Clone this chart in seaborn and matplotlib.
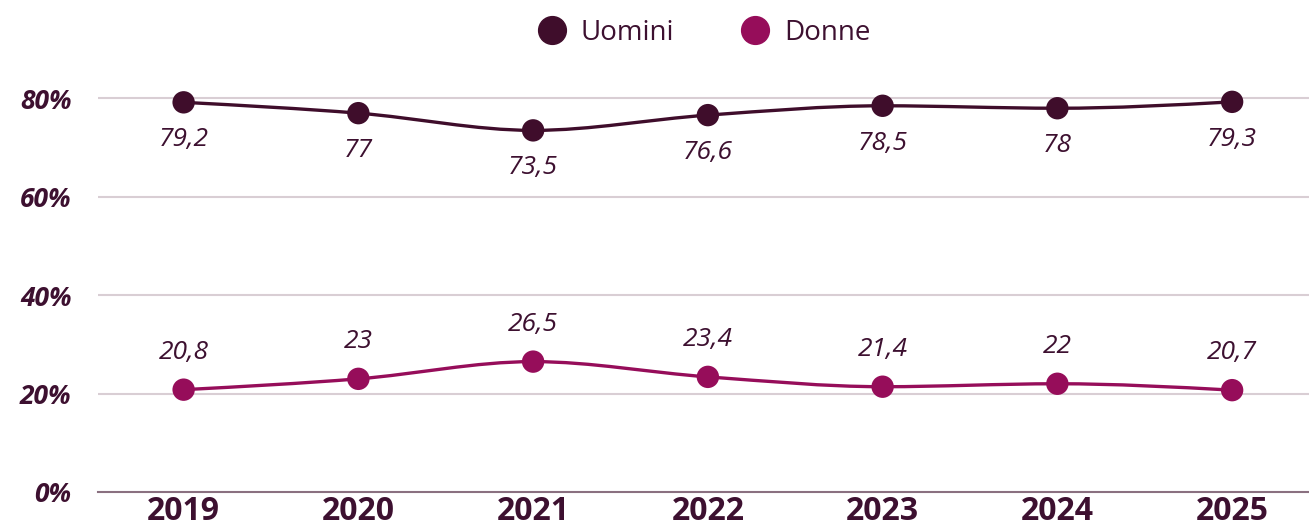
import numpy as np
import pandas as pd
import matplotlib
matplotlib.use("Agg")
import matplotlib.pyplot as plt
from matplotlib.path import Path
from matplotlib.patches import PathPatch
from matplotlib.lines import Line2D
import seaborn as sns

years = ["2019", "2020", "2021", "2022", "2023", "2024", "2025"]
uomini = [79.2, 77.0, 73.5, 76.6, 78.5, 78.0, 79.3]
donne = [20.8, 23.0, 26.5, 23.4, 21.4, 22.0, 20.7]
series_names = ["Uomini", "Donne"]
y_ticks = [0, 20, 40, 60, 80]

C_U = "#3f0d2b"
C_D = "#960d5a"
TXT = "#3d1030"
FONT = "Open Sans"

sns.set_theme(style="white")
plt.rcParams["font.family"] = [FONT, "DejaVu Sans"]

df = pd.DataFrame({
    "x": list(range(len(years))) * 2,
    "val": uomini + donne,
    "serie": [series_names[0]] * len(years) + [series_names[1]] * len(years),
})

fig = plt.figure(figsize=(13.09, 5.31), dpi=100)
ax = fig.add_axes([98 / 1309, 1 - 492 / 531, 1 - 98 / 1309, 492 / 531])
ax.set_xlim(-0.49, 6.44)
ax.set_ylim(0, 100)


def monotone_path(xs, ys):
    xs = np.asarray(xs, float)
    ys = np.asarray(ys, float)
    h = np.diff(xs)
    s = np.diff(ys) / h
    n = len(xs)
    t = np.zeros(n)
    for i in range(1, n - 1):
        s0, s1 = s[i - 1], s[i]
        p = (s0 * h[i] + s1 * h[i - 1]) / (h[i - 1] + h[i])
        t[i] = (np.sign(s0) + np.sign(s1)) * min(abs(s0), abs(s1), 0.5 * abs(p))
    t[0] = (3 * s[0] - t[1]) / 2
    t[-1] = (3 * s[-1] - t[-2]) / 2
    verts = [(xs[0], ys[0])]
    codes = [Path.MOVETO]
    for i in range(n - 1):
        dx = h[i] / 3
        verts += [(xs[i] + dx, ys[i] + dx * t[i]),
                  (xs[i + 1] - dx, ys[i + 1] - dx * t[i + 1]),
                  (xs[i + 1], ys[i + 1])]
        codes += [Path.CURVE4] * 3
    return Path(verts, codes)


xs = list(range(len(years)))
for vals, col in [(uomini, C_U), (donne, C_D)]:
    ax.add_patch(PathPatch(monotone_path(xs, vals), facecolor="none",
                           edgecolor=col, lw=2.4, zorder=3))

sns.scatterplot(data=df, x="x", y="val", hue="serie",
                palette={series_names[0]: C_U, series_names[1]: C_D},
                s=260, linewidth=0, legend=False, ax=ax, zorder=4)

for x, v in zip(xs, uomini):
    ax.annotate(f"{v:g}".replace(".", ","), (x, v), xytext=(0, -27),
                textcoords="offset points", ha="center", va="center",
                fontsize=19, fontstyle="italic", color=TXT)
for x, v in zip(xs, donne):
    ax.annotate(f"{v:g}".replace(".", ","), (x, v), xytext=(0, 27),
                textcoords="offset points", ha="center", va="center",
                fontsize=19, fontstyle="italic", color=TXT)

ax.set_yticks(y_ticks)
ax.set_yticklabels([f"{t}%" for t in y_ticks], fontsize=19, fontweight="bold",
                   fontstyle="italic", color=TXT)
ax.set_xticks(xs)
ax.set_xticklabels(years, fontsize=23, fontweight="bold", color=TXT)
ax.tick_params(axis="y", length=0, pad=19)
ax.tick_params(axis="x", length=0, pad=2)
ax.set_xlabel("")
ax.set_ylabel("")
for sp in ["top", "right", "left"]:
    ax.spines[sp].set_visible(False)
ax.spines["bottom"].set_color("#8a7080")
ax.spines["bottom"].set_linewidth(1.5)
ax.grid(False)
for t in y_ticks[1:]:
    ax.axhline(t, color="#d9ced4", lw=1.5, zorder=1)

handles = [Line2D([], [], marker="o", ls="none", markersize=20, color=C_U, label=series_names[0]),
           Line2D([], [], marker="o", ls="none", markersize=20, color=C_D, label=series_names[1])]
leg = fig.legend(handles=handles, loc="center", bbox_to_anchor=(697 / 1309, 1 - 33 / 531),
                 ncol=2, frameon=False, fontsize=20, handletextpad=0.05, columnspacing=1.9,
                 labelcolor=TXT)

fig.savefig("out.png", dpi=100)
